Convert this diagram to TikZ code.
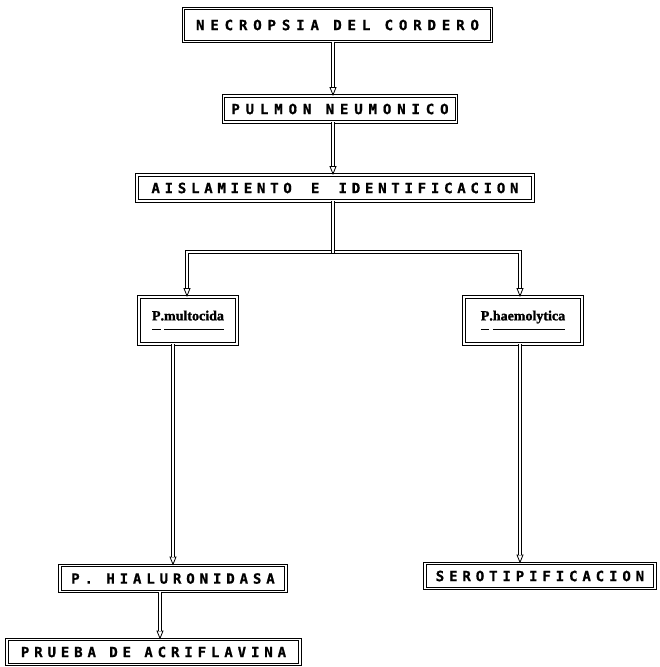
\documentclass[tikz,border=0pt]{standalone}
\usepackage{fontspec}
\usetikzlibrary{arrows.meta}
\newfontfamily\dmA[LetterSpace=42,FakeBold=1]{DejaVu Sans Mono}
\newfontfamily\dmC[LetterSpace=34,FakeBold=1]{DejaVu Sans Mono}
\newfontfamily\dmB[LetterSpace=35,FakeBold=1]{DejaVu Sans Mono}
\newfontfamily\nmfont[FakeBold=1.5]{Liberation Serif}
\newcommand\ulw[1]{\setbox0\hbox{#1}\rlap{\rule[-10pt]{\wd0}{0.9pt}}\box0}
\tikzset{
  dbox/.style={draw, double, double distance=1.6pt, line width=0.8pt, inner sep=0pt, outer sep=0pt, fill=white},
  big/.style={dbox, font=\dmA\bfseries\fontsize{14}{14}\selectfont},
  mid/.style={dbox, font=\dmC\bfseries\fontsize{14}{14}\selectfont},
  small/.style={dbox, font=\dmB\bfseries\fontsize{14}{14}\selectfont},
  spname/.style={dbox, font=\nmfont\bfseries\fontsize{14}{14}\selectfont},
  dline/.style={draw=black, line width=3.6pt, postaction={draw=white, line width=1.8pt, -}},
  conn/.style={draw=black, line width=3.6pt, -{Triangle[open, length=9pt, width=7pt, line width=0.8pt]},
    postaction={draw=white, line width=1.8pt, -, shorten >=9pt}},
  conn2/.style={draw=black, line width=3.6pt, {Triangle[open, length=9pt, width=7pt, line width=0.8pt]}-{Triangle[open, length=9pt, width=7pt, line width=0.8pt]},
    postaction={draw=white, line width=1.8pt, -, shorten >=9pt, shorten <=9pt}}
}
\begin{document}
\begin{tikzpicture}[x=1pt,y=-1pt]
\fill[white] (0,0) rectangle (660,667);
\useasboundingbox (0,0) rectangle (660,667);
\node[big, minimum width=308pt, minimum height=33pt] (n1) at (337.5,25) {NECROPSIA DEL CORDERO};
\node[big, minimum width=233pt, minimum height=26pt] (n2) at (340,109) {PULMON NEUMONICO};
\node[mid, minimum width=396pt, minimum height=26pt] (n3) at (335,188) {AISLAMIENTO\hspace{6pt} E\hspace{6pt} IDENTIFICACION};
\node[spname, minimum width=98pt, minimum height=47pt] (L) at (188,320.5) {\ulw{P}.\ulw{multocida}};
\node[spname, minimum width=118pt, minimum height=47pt] (R) at (523,320.5) {\ulw{P}.\ulw{haemolytica}};
\node[small, minimum width=226pt, minimum height=26pt] (H) at (173,578.5) {P. HIALURONIDASA};
\node[small, minimum width=230pt, minimum height=25pt] (S) at (540,576) {SEROTIPIFICACION};
\node[small, minimum width=293pt, minimum height=25pt] (P) at (153.5,652) {PRUEBA DE ACRIFLAVINA};
\coordinate (cx) at (333,0);
\coordinate (bl) at (187,0);
\coordinate (br) at (520,0);
\coordinate (sl) at (173,0);
\coordinate (hx) at (160,0);
\coordinate (j) at (333,252);
\draw[conn] (n1.south -| cx) -- (n2.north -| cx);
\draw[conn] (n2.south -| cx) -- (n3.north -| cx);
\draw[conn2] (L.north -| bl) |- (j) -| (R.north -| br);
\draw[dline] (n3.south -| cx) -- ([yshift=-1pt]j);
\draw[conn] (L.south -| sl) -- (H.north -| sl);
\draw[conn] (R.south -| br) -- (S.north -| br);
\draw[conn] (H.south -| hx) -- (P.north -| hx);
\end{tikzpicture}
\end{document}
